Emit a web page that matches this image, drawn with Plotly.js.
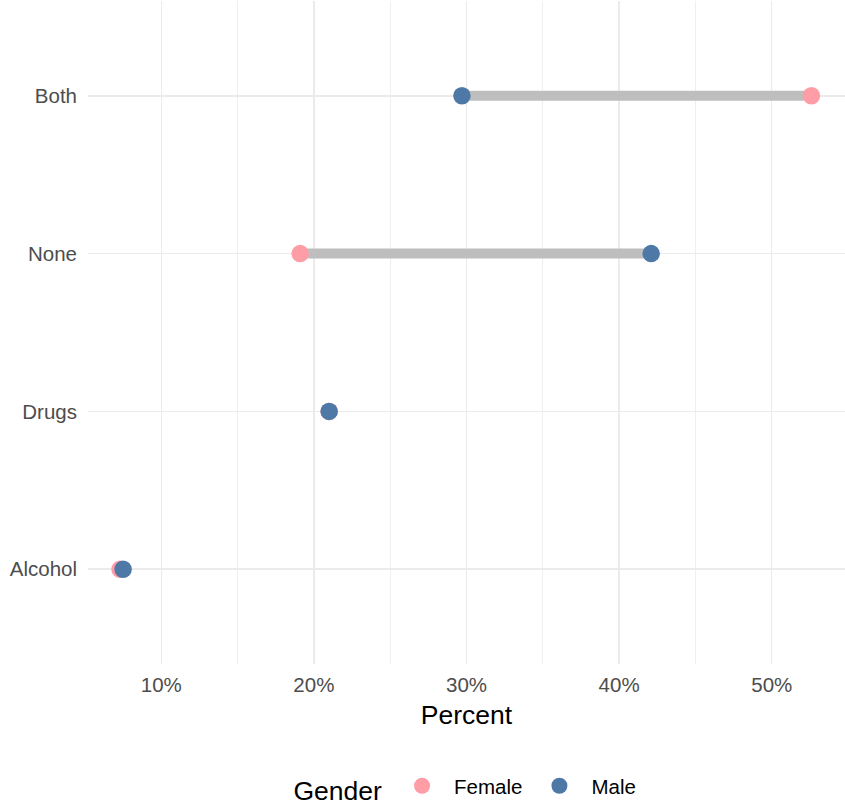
<!DOCTYPE html>
<html>
<head>
<meta charset="utf-8">
<script src="https://cdn.plot.ly/plotly-3.0.1.min.js"></script>
<style>html,body{margin:0;padding:0;background:#fff;}#chart{width:845px;height:807px;}</style>
</head>
<body>
<div id="chart"></div>
<script>
var categories = ['Alcohol', 'Drugs', 'None', 'Both'];
var femaleValues = [7.3, 21.0, 19.1, 52.6];
var maleValues = [7.5, 21.0, 42.1, 29.7];
var xTickValues = [10, 20, 30, 40, 50];
var xTickLabels = ['10%', '20%', '30%', '40%', '50%'];

var segX = [], segY = [];
for (var i = 0; i < categories.length; i++) {
  segX.push(femaleValues[i], maleValues[i], null);
  segY.push(categories[i], categories[i], null);
}

var traces = [
  {type: 'scatter', mode: 'lines', x: segX, y: segY, showlegend: false, hoverinfo: 'skip',
   line: {color: '#BEBEBE', width: 10}},
  {type: 'scatter', mode: 'markers', name: 'Female', x: femaleValues, y: categories,
   marker: {color: '#FF9DA7', size: 17.5}},
  {type: 'scatter', mode: 'markers', name: 'Male', x: maleValues, y: categories,
   marker: {color: '#4E79A7', size: 17.5}}
];

var layout = {
  width: 845, height: 807,
  margin: {l: 88, r: 0, t: 1, b: 143, autoexpand: false},
  paper_bgcolor: '#ffffff', plot_bgcolor: '#ffffff',
  font: {family: 'Liberation Sans, Arial, sans-serif', color: '#000000'},
  xaxis: {
    range: [5.2, 54.8], tickmode: 'array', tickvals: xTickValues, ticktext: xTickLabels,
    showgrid: true, gridcolor: '#EBEBEB', gridwidth: 1.4, zeroline: false, showline: false,
    ticks: '', ticklabelstandoff: 6,
    tickfont: {size: 20.5, color: '#4D4D4D'},
    minor: {tickvals: [15, 25, 35, 45], showgrid: true, gridcolor: '#EBEBEB', gridwidth: 0.8},
    title: {text: 'Percent', font: {size: 26.5, color: '#000000'}, standoff: 10}
  },
  yaxis: {
    type: 'category', categoryorder: 'array', categoryarray: categories,
    range: [-0.6, 3.6],
    showgrid: true, gridcolor: '#EBEBEB', gridwidth: 1.6, zeroline: false, showline: false,
    ticks: '', ticklabelstandoff: 10,
    tickfont: {size: 20.5, color: '#4D4D4D'}
  },
  legend: {
    orientation: 'h', x: 0.5, xanchor: 'center', yref: 'container', y: 0.023, yanchor: 'middle',
    title: {text: 'Gender', font: {size: 26.5, color: '#000000'}, side: 'left'},
    font: {size: 20.5, color: '#000000'},
    itemwidth: 54, traceorder: 'normal'
  },
  showlegend: true
};

Plotly.newPlot('chart', traces, layout, {displayModeBar: false, staticPlot: true});
</script>
</body>
</html>
